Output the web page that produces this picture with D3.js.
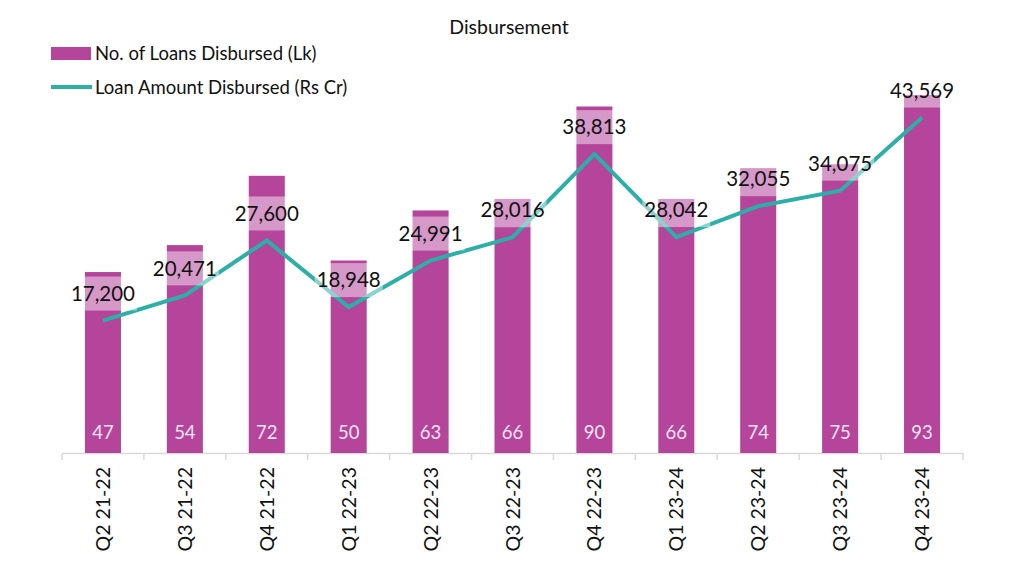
<!DOCTYPE html>
<html>
<head>
<meta charset="utf-8">
<script src="https://cdn.jsdelivr.net/npm/d3@7"></script>
<style>
	body { margin: 0; background: #fff; }
	text { font-family: Lato, "Open Sans", sans-serif; }
</style>
</head>
<body>
<svg id="chart"></svg>
<script>
const quarters = ['Q2 21-22', 'Q3 21-22', 'Q4 21-22', 'Q1 22-23', 'Q2 22-23', 'Q3 22-23',
		'Q4 22-23', 'Q1 23-24', 'Q2 23-24', 'Q3 23-24', 'Q4 23-24'],
	loansLk = [47, 54, 72, 50, 63, 66, 90, 66, 74, 75, 93],
	amountCr = [17200, 20471, 27600, 18948, 24991, 28016, 38813, 28042, 32055, 34075, 43569];

const W = 1025, H = 578,
	BASE_Y = 453,
	TOP_Y = 68,
	BAR_COLOR = '#b5449b',
	LINE_COLOR = '#2bafa7';

const svg = d3.select('svg#chart')
	.attr('width', W)
	.attr('height', H);

const x = d3.scaleBand()
	.domain(quarters)
	.range([62, 963])
	.paddingInner(0.56)
	.paddingOuter(0.28);

const yBar = d3.scaleLinear().domain([0, 100]).range([BASE_Y, TOP_Y]),
	yLine = d3.scaleLinear().domain([0, 50000]).range([BASE_Y, TOP_Y]);

// title
svg.append('text')
	.attr('x', 509)
	.attr('y', 34)
	.attr('text-anchor', 'middle')
	.attr('font-size', 19.5)
	.attr('fill', '#111')
	.text('Disbursement');

// legend
svg.append('rect')
	.attr('x', 51).attr('y', 47)
	.attr('width', 40).attr('height', 13)
	.attr('fill', BAR_COLOR);
svg.append('text')
	.attr('x', 95).attr('y', 60)
	.attr('font-size', 18.5)
	.attr('fill', '#111')
	.text('No. of Loans Disbursed (Lk)');
svg.append('line')
	.attr('x1', 51).attr('x2', 92)
	.attr('y1', 87).attr('y2', 87)
	.attr('stroke', LINE_COLOR)
	.attr('stroke-width', 4);
svg.append('text')
	.attr('x', 95).attr('y', 94)
	.attr('font-size', 18.5)
	.attr('fill', '#111')
	.text('Loan Amount Disbursed (Rs Cr)');

// x axis
const axis = svg.append('g')
	.attr('transform', `translate(0,${BASE_Y})`)
	.call(d3.axisBottom(x).tickSize(0).tickFormat(''));
axis.select('.domain').attr('stroke', '#d9d9d9').attr('stroke-width', 1.5);

const step = x.step();
axis.selectAll('line.sep')
	.data(d3.range(quarters.length + 1))
	.join('line')
	.classed('sep', true)
	.attr('x1', i => 62 + i * step)
	.attr('x2', i => 62 + i * step)
	.attr('y1', 0)
	.attr('y2', 7)
	.attr('stroke', '#d9d9d9')
	.attr('stroke-width', 1.5);

svg.append('g')
	.selectAll('text')
	.data(quarters)
	.join('text')
	.attr('transform', d => `translate(${x(d) + x.bandwidth() / 2 + 7},467) rotate(-90)`)
	.attr('text-anchor', 'end')
	.attr('font-size', 19.5)
	.attr('fill', '#111')
	.text(d => d);

// bars
const barsG = svg.append('g');
barsG.selectAll('rect')
	.data(loansLk)
	.join('rect')
	.attr('x', (d, i) => x(quarters[i]))
	.attr('y', d => yBar(d))
	.attr('width', x.bandwidth())
	.attr('height', d => BASE_Y - yBar(d))
	.attr('fill', BAR_COLOR);

barsG.selectAll('text')
	.data(loansLk)
	.join('text')
	.attr('x', (d, i) => x(quarters[i]) + x.bandwidth() / 2)
	.attr('y', 439)
	.attr('text-anchor', 'middle')
	.attr('font-size', 18.5)
	.attr('fill', '#f4e4f1')
	.text(d => d);

// line
const line = d3.line()
	.x((d, i) => x(quarters[i]) + x.bandwidth() / 2)
	.y(d => yLine(d));

svg.append('path')
	.datum(amountCr)
	.attr('d', line)
	.attr('fill', 'none')
	.attr('stroke', LINE_COLOR)
	.attr('stroke-width', 4)
	.attr('stroke-linejoin', 'miter');

// line value labels with translucent boxes
const fmt = d3.format(',');
const lblG = svg.append('g');
lblG.selectAll('rect')
	.data(amountCr)
	.join('rect')
	.attr('x', (d, i) => x(quarters[i]) + x.bandwidth() / 2 - 34)
	.attr('y', d => yLine(d) - 27 - 17)
	.attr('width', 68)
	.attr('height', 34)
	.attr('fill', '#fff')
	.attr('opacity', 0.45);

lblG.selectAll('text')
	.data(amountCr)
	.join('text')
	.attr('x', (d, i) => x(quarters[i]) + x.bandwidth() / 2)
	.attr('y', d => yLine(d) - 27)
	.attr('dy', '0.35em')
	.attr('text-anchor', 'middle')
	.attr('font-size', 20.5)
	.attr('fill', '#111')
	.text(d => fmt(d));
</script>
</body>
</html>
